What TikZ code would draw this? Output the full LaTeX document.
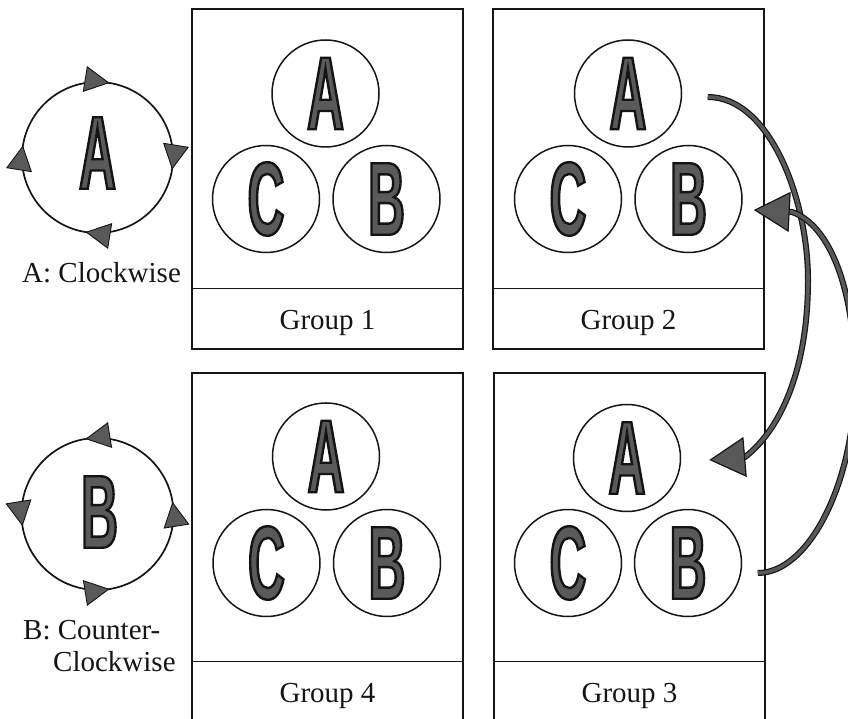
\documentclass[tikz,border=0pt]{standalone}
\usepackage{fontspec}
\setmainfont{Liberation Serif}
\newfontfamily\letfont{Liberation Sans Bold}[FakeStretch=0.49]
\usetikzlibrary{arrows.meta,decorations.markings,calc}
\definecolor{letgray}{HTML}{5A5A5A}
\definecolor{tipgray}{HTML}{595959}
\definecolor{inkc}{HTML}{151515}
\newcommand\biglet[1]{{\color{letgray}\special{pdf:literal direct 2 Tr 2.4 w 0.08 0.08 0.08 RG}%
  \letfont\fontsize{104}{104}\selectfont #1\special{pdf:literal direct 0 Tr}}}
\tikzset{
  gbox/.style={rectangle, draw=inkc, line width=1.2pt, minimum width=271pt, inner sep=0pt},
  gline/.style={draw=inkc, line width=1.2pt},
  circ/.style={circle, draw=inkc, line width=1.5pt, minimum size=107pt, inner sep=0pt},
  plain/.style={inner sep=0pt},
  lbl/.style={inner sep=0pt, font=\fontsize{29}{32}\selectfont, text=inkc},
  cwcircle/.style={draw=inkc, line width=1.7pt, postaction={decorate}, decoration={markings,
      mark=at position 0.2245 with {\arrowreversed{Triangle[length=25pt, width=26pt, fill=tipgray, line width=0.9pt]}},
      mark=at position 0.4745 with {\arrowreversed{Triangle[length=25pt, width=26pt, fill=tipgray, line width=0.9pt]}},
      mark=at position 0.7245 with {\arrowreversed{Triangle[length=25pt, width=26pt, fill=tipgray, line width=0.9pt]}},
      mark=at position 0.9745 with {\arrowreversed{Triangle[length=25pt, width=26pt, fill=tipgray, line width=0.9pt]}}}},
  ccwcircle/.style={draw=inkc, line width=1.7pt, postaction={decorate}, decoration={markings,
      mark=at position 0.0255 with {\arrow{Triangle[length=25pt, width=26pt, fill=tipgray, line width=0.9pt]}},
      mark=at position 0.2755 with {\arrow{Triangle[length=25pt, width=26pt, fill=tipgray, line width=0.9pt]}},
      mark=at position 0.5255 with {\arrow{Triangle[length=25pt, width=26pt, fill=tipgray, line width=0.9pt]}},
      mark=at position 0.7755 with {\arrow{Triangle[length=25pt, width=26pt, fill=tipgray, line width=0.9pt]}}}},
  bigarrow/.style={draw=inkc, line width=1.2pt, double=tipgray, double distance=3.6pt,
      -{Triangle[length=36pt, width=40pt, fill=tipgray, line width=1.2pt]}}
}
\begin{document}
\begin{tikzpicture}[x=1pt, y=1pt]
\useasboundingbox[fill=white] (0,0) rectangle (848,718);

% left legend
\node[plain] (LA) at (97.5,565) {\biglet{A}};
\draw[cwcircle] (LA.center) ++(0,-4.5) circle[radius=75.5pt];
\node[lbl, anchor=base west] (LAt) at (22,435) {A: Clockwise};

\node[plain] (LB) at (99.5,206) {\biglet{B}};
\draw[ccwcircle] (LB.center) ++(-2,-2) circle[radius=76pt];
\node[lbl, anchor=north west, align=left] (LBt) at (23,98) {B: Counter-\\\hspace*{30pt}Clockwise};

% Group 1
\node[gbox, minimum height=340pt] (g1) at (327.5,539) {};
\draw[gline] ($(g1.north west)+(0,-280)$) -- ($(g1.north east)+(0,-280)$);
\node[lbl, anchor=base] (t1) at (327.5,388) {Group 1};
\node[circ] (A1) at (325.5,624.5) {\biglet{A}};
\node[circ] (C1) at (266,519) {\biglet{C}};
\node[circ] (B1) at (386.5,519) {\biglet{B}};

% Group 2
\node[gbox, minimum height=340pt] (g2) at (628.5,539) {};
\draw[gline] ($(g2.north west)+(0,-280)$) -- ($(g2.north east)+(0,-280)$);
\node[lbl, anchor=base] (t2) at (628.5,388) {Group 2};
\node[circ] (A2) at (628,624.5) {\biglet{A}};
\node[circ] (C2) at (568,519) {\biglet{C}};
\node[circ] (B2) at (688.5,519) {\biglet{B}};

% Group 4
\node[gbox, minimum height=350pt] (g4) at (327.5,170) {};
\draw[gline] ($(g4.north west)+(0,-289)$) -- ($(g4.north east)+(0,-289)$);
\node[lbl, anchor=base] (t4) at (327.5,16) {Group 4};
\node[circ] (A4) at (326,261.5) {\biglet{A}};
\node[circ] (C4) at (266.5,155) {\biglet{C}};
\node[circ] (B4) at (387,155) {\biglet{B}};

% Group 3
\node[gbox, minimum height=350pt] (g3) at (629.5,170) {};
\draw[gline] ($(g3.north west)+(0,-289)$) -- ($(g3.north east)+(0,-289)$);
\node[lbl, anchor=base] (t3) at (629.5,16) {Group 3};
\node[circ] (A3) at (627,260) {\biglet{A}};
\node[circ] (C3) at (568,155) {\biglet{C}};
\node[circ] (B3) at (688,155) {\biglet{B}};

% curved arrows
\draw[bigarrow] ($(A2.east)+(25.5,-3.5)$) .. controls (770,621) and (808,518) .. (808,438)
   .. controls (808,348) and (780,288) .. (745,261) -- ($(A3.east)+(28,-2)$);
\draw[bigarrow] ($(B3.east)+(15.5,-10)$) .. controls (810,145) and (855,238) .. (855,338)
   .. controls (855,428) and (830,493) .. (792,506) -- ($(B2.east)+(11,-11)$);
\end{tikzpicture}
\end{document}
